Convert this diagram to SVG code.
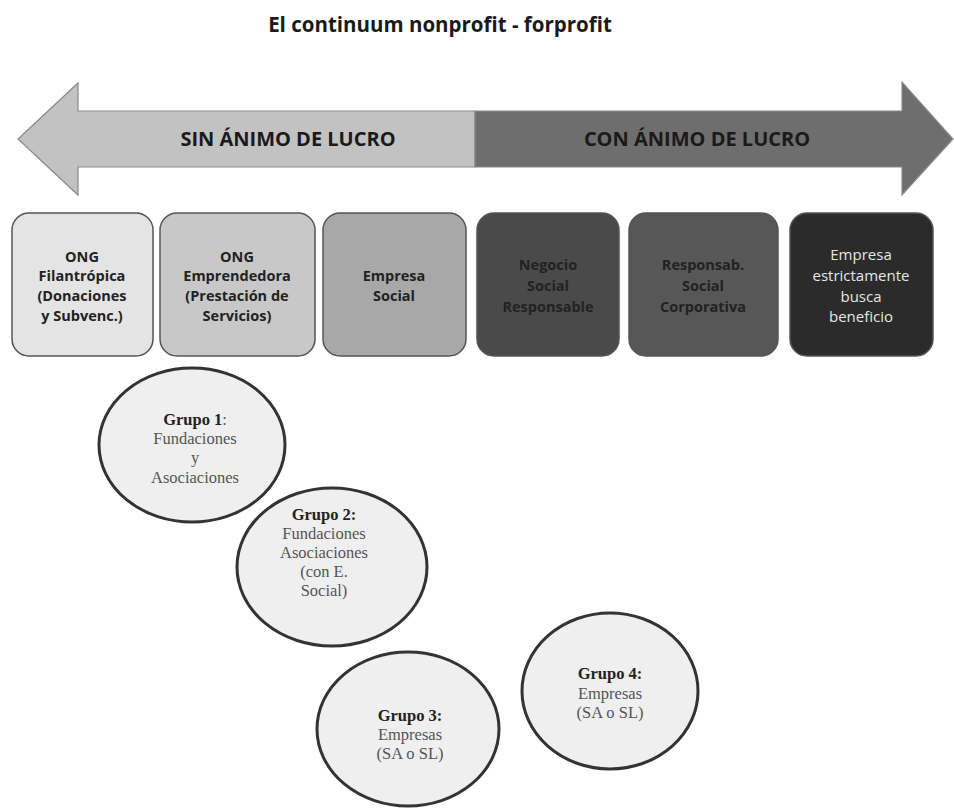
<svg xmlns="http://www.w3.org/2000/svg" width="954" height="810" viewBox="0 0 954 810">
<style>
.title{font-family:"Open Sans","DejaVu Sans",sans-serif;font-weight:bold;font-size:20.5px;fill:#1a1a1a}
.band{font-family:"Open Sans","DejaVu Sans",sans-serif;font-weight:bold;font-size:20px;fill:#1a1a1a}
.box{stroke:#555;stroke-width:1.5}
.bt{font-family:"Open Sans","DejaVu Sans",sans-serif;font-weight:bold;font-size:14.5px;fill:#222;text-anchor:middle}
.bw{font-family:"Open Sans","DejaVu Sans",sans-serif;font-size:15px;fill:#e6e6e6;text-anchor:middle}
.ell{fill:#efefef;stroke:#333;stroke-width:3}
.et{font-family:"Liberation Serif","DejaVu Serif",serif;font-size:16.5px;fill:#555;text-anchor:middle}
.eb{font-weight:bold;fill:#222}
</style>
<text class="title" x="440" y="32" text-anchor="middle">El continuum nonprofit - forprofit</text>
<g id="arrow">
<path d="M475,111 L78,111 L78,83 L18,139 L78,195 L78,167 L475,167 Z" fill="#c2c2c2" stroke="#8a8a8a" stroke-width="1.2"/>
<path d="M475,111 L902,111 L902,82 L953,139 L902,195 L902,167 L475,167 Z" fill="#6e6e6e" stroke="#8a8a8a" stroke-width="1.2"/>
<text class="band" x="288" y="146" text-anchor="middle">SIN ÁNIMO DE LUCRO</text>
<text class="band" x="697" y="146" text-anchor="middle">CON ÁNIMO DE LUCRO</text>
</g>
<g id="box1">
<rect class="box" x="12" y="213" width="141" height="143" rx="17" fill="#e4e4e4"/>
<text class="bt" x="82" y="262">ONG</text>
<text class="bt" x="82" y="281">Filantrópica</text>
<text class="bt" x="82" y="301">(Donaciones</text>
<text class="bt" x="82" y="321">y Subvenc.)</text>
</g>
<g id="box2">
<rect class="box" x="160" y="213" width="155" height="143" rx="17" fill="#c8c8c8"/>
<text class="bt" x="237" y="262">ONG</text>
<text class="bt" x="237" y="281">Emprendedora</text>
<text class="bt" x="237" y="301">(Prestación de</text>
<text class="bt" x="237" y="321">Servicios)</text>
</g>
<g id="box3">
<rect class="box" x="323" y="213" width="143" height="143" rx="17" fill="#a8a8a8"/>
<text class="bt" x="394" y="281">Empresa</text>
<text class="bt" x="394" y="301">Social</text>
</g>
<g id="box4">
<rect class="box" x="477" y="213" width="142" height="143" rx="17" fill="#4a4a4a"/>
<text class="bt" x="548" y="270">Negocio</text>
<text class="bt" x="548" y="291">Social</text>
<text class="bt" x="548" y="312">Responsable</text>
</g>
<g id="box5">
<rect class="box" x="629" y="213" width="149" height="143" rx="17" fill="#575757"/>
<text class="bt" x="703" y="270">Responsab.</text>
<text class="bt" x="703" y="291">Social</text>
<text class="bt" x="703" y="312">Corporativa</text>
</g>
<g id="box6">
<rect class="box" x="790" y="213" width="143" height="143" rx="17" fill="#2b2b2b"/>
<text class="bw" x="861" y="260">Empresa</text>
<text class="bw" x="861" y="281">estrictamente</text>
<text class="bw" x="861" y="302">busca</text>
<text class="bw" x="861" y="322">beneficio</text>
</g>
<g id="grupo1">
<ellipse class="ell" cx="192" cy="445" rx="93" ry="77"/>
<text class="et" x="195" y="425"><tspan class="eb">Grupo 1</tspan>:</text>
<text class="et" x="195" y="444">Fundaciones</text>
<text class="et" x="195" y="463">y</text>
<text class="et" x="195" y="483">Asociaciones</text>
</g>
<g id="grupo2">
<ellipse class="ell" cx="332" cy="567" rx="95" ry="79"/>
<text class="et eb" x="324" y="520">Grupo 2:</text>
<text class="et" x="324" y="539">Fundaciones</text>
<text class="et" x="324" y="558">Asociaciones</text>
<text class="et" x="324" y="577">(con E.</text>
<text class="et" x="324" y="596">Social)</text>
</g>
<g id="grupo3">
<ellipse class="ell" cx="408" cy="729" rx="91" ry="77"/>
<text class="et eb" x="410" y="721">Grupo 3:</text>
<text class="et" x="410" y="740">Empresas</text>
<text class="et" x="410" y="759">(SA o SL)</text>
</g>
<g id="grupo4">
<ellipse class="ell" cx="610" cy="691" rx="88" ry="78"/>
<text class="et eb" x="610" y="679">Grupo 4:</text>
<text class="et" x="610" y="699">Empresas</text>
<text class="et" x="610" y="718">(SA o SL)</text>
</g>
</svg>
